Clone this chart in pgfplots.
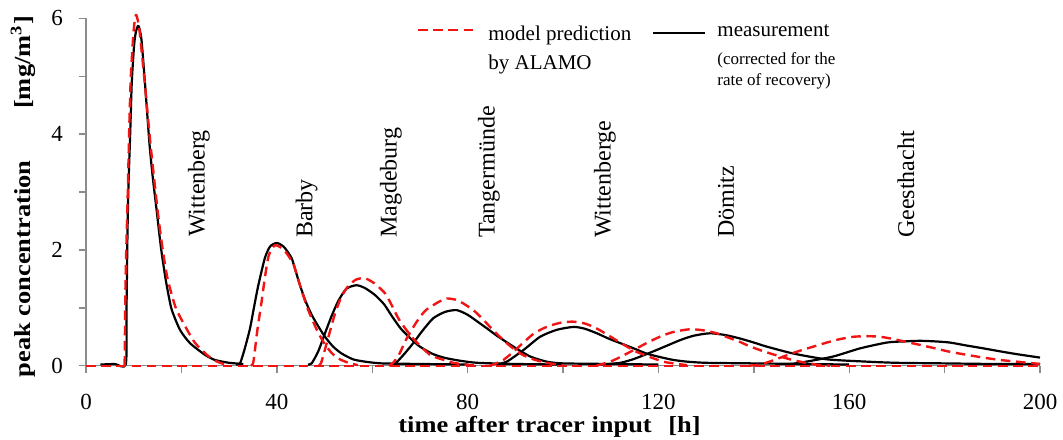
\documentclass[border=0pt]{standalone}
\usepackage{fontspec}
\setmainfont{Liberation Serif}
\usepackage{graphicx}
\usepackage{pgfplots}
\pgfplotsset{compat=1.18}
\definecolor{axgray}{RGB}{140,140,140}
\definecolor{mred}{RGB}{240,20,20}
\tikzset{
  meas/.style={black, line width=1.1pt, line join=round, smooth, tension=0.4},
  model/.style={mred, line width=1.2pt, dash pattern=on 4.8pt off 2.8pt, line join=round, smooth, tension=0.4},
}
\newcommand{\fs}[1]{\fontsize{#1}{#1}\selectfont}
\begin{document}
\begin{tikzpicture}
\useasboundingbox (-43pt,-36.65pt) rectangle (488.5pt,182.85pt);
\begin{axis}[
  scale only axis, width=477pt, height=173.7pt,
  at={(0,0)}, anchor=south west,
  xmin=0, xmax=200, ymin=0, ymax=6,
  clip=false,
  axis lines*=left,
  axis line style={axgray, line width=0.7pt},
  tick style={axgray, line width=0.7pt},
  tick align=outside,
  major tick length=3.5pt, minor tick length=3.5pt,
  xtick={0,40,...,200}, minor xtick={20,60,...,180},
  ytick={0,2,4,6}, minor ytick={1,3,5},
  /pgf/number format/assume math mode=true,
  ticklabel style={font=\fs{11.5}},
  xticklabel style={yshift=-7pt},
  yticklabel style={xshift=-4.5pt},
]
% measurement (black)
\addplot[meas] coordinates {(3,0.02)(6,0.03)(8.35,0.03)(8.5,1.0)(8.7,2.3)(8.9,3.1)(9.3,4.1)(9.6,4.9)(10.1,5.55)(10.5,5.78)(11.0,5.87)(11.6,5.65)(12.3,4.95)(13.3,3.84)(14.0,3.25)(14.8,2.69)(15.7,2.05)(16.6,1.54)(17.3,1.22)(18.0,0.96)(19.7,0.62)(21.8,0.39)(24.9,0.19)(27,0.1)(30,0.05)(33,0.03)};
\addplot[meas] coordinates {(31.5,0.02)(32.3,0.04)(33.3,0.3)(34.4,0.65)(35.2,1.0)(36.1,1.38)(37.5,1.86)(38.6,2.06)(40.0,2.12)(41.5,2.05)(43.1,1.86)(44.0,1.62)(44.9,1.38)(46.0,1.12)(47.3,0.88)(48.7,0.68)(50.1,0.5)(51.8,0.33)(53.6,0.21)(56,0.11)(58.5,0.07)(62,0.04)(70,0.03)(80,0.02)};
\addplot[meas] coordinates {(46.5,0.02)(47.3,0.04)(48.7,0.25)(50.1,0.56)(51.5,0.86)(52.9,1.12)(54.6,1.33)(56.7,1.39)(58.5,1.34)(60.6,1.22)(62.5,1.06)(64.1,0.86)(66,0.64)(68.3,0.45)(70,0.33)(72.5,0.21)(75,0.14)(78.1,0.09)(82,0.05)(90,0.03)(100,0.02)};
\addplot[meas] coordinates {(64,0.02)(65.1,0.06)(66.7,0.2)(68.6,0.39)(70.5,0.6)(72.8,0.82)(75.3,0.93)(77.7,0.96)(80.0,0.88)(82.6,0.73)(84.3,0.63)(86.1,0.52)(89.6,0.33)(93.1,0.16)(96.6,0.07)(100,0.04)(110,0.03)(120,0.02)};
\addplot[meas] coordinates {(86,0.02)(88.2,0.07)(91.7,0.27)(95.2,0.5)(98.7,0.62)(102.2,0.67)(104.5,0.64)(107.1,0.56)(109.5,0.47)(112,0.39)(114.8,0.3)(117.5,0.21)(120.3,0.15)(123.1,0.1)(126,0.07)(130,0.05)(140,0.04)(150,0.03)(160,0.02)};
\addplot[meas] coordinates {(108,0.02)(112,0.05)(115,0.12)(119.6,0.27)(124.5,0.44)(127.5,0.52)(130.8,0.56)(134,0.53)(137.1,0.47)(140,0.4)(142.7,0.33)(148.3,0.21)(155.3,0.11)(163.7,0.07)(170,0.05)(180,0.04)(190,0.03)(200,0.03)};
\addplot[meas] coordinates {(147,0.02)(151,0.07)(156.7,0.16)(162.3,0.3)(167.9,0.4)(171.5,0.42)(174.8,0.43)(178,0.42)(181.1,0.4)(184.5,0.35)(188.1,0.3)(191.5,0.25)(195.1,0.2)(200,0.14)};
% model prediction (red dashed)
\addplot[model, smooth=false] coordinates {(0,0)(200,0)};
\addplot[model] coordinates {(8.1,0)(8.3,1.5)(8.7,2.8)(9.1,4.2)(9.4,5.0)(10.0,5.8)(10.5,6.06)(11.2,5.8)(12.3,4.9)(13.5,3.84)(15.0,2.69)(16.0,2.05)(17.0,1.54)(18.0,1.22)(19.0,0.96)(21.2,0.62)(22.9,0.39)(25.3,0.19)(27,0.09)(28.5,0.04)(30,0.01)};
\addplot[model] coordinates {(34.6,0)(35.1,0.07)(35.9,0.6)(36.8,1.1)(37.5,1.52)(38.3,1.9)(39.6,2.08)(41.5,2.0)(43.5,1.75)(45,1.35)(46.6,0.96)(48.5,0.6)(50,0.38)(51.5,0.22)(53,0.12)(55,0.05)(57,0.01)};
\addplot[model] coordinates {(48.8,0)(49.3,0.05)(50.5,0.4)(52.2,0.9)(53.5,1.18)(55,1.38)(56.7,1.49)(58.5,1.51)(60.5,1.42)(62.7,1.25)(64,1.06)(65.6,0.8)(67.5,0.58)(69.0,0.43)(72.1,0.19)(74.6,0.11)(77,0.05)(79.5,0.02)(82,0)};
\addplot[model] coordinates {(63.5,0)(64.5,0.06)(65.8,0.22)(66.9,0.42)(68.5,0.65)(70,0.84)(71.4,0.97)(73.9,1.1)(75.6,1.16)(77.5,1.14)(79,1.08)(81.2,0.96)(83,0.82)(84.7,0.67)(86.5,0.52)(88.2,0.39)(90,0.27)(91.7,0.18)(93.8,0.11)(95.9,0.06)(98,0.03)(100,0.01)};
\addplot[model] coordinates {(84.5,0)(85.4,0.02)(87.5,0.1)(89.6,0.24)(91.7,0.4)(93.8,0.55)(96,0.65)(98,0.71)(100,0.75)(102.2,0.76)(104.5,0.73)(106.4,0.67)(108,0.6)(110.6,0.47)(113.4,0.33)(115.4,0.24)(118.2,0.15)(121,0.07)(123.1,0.04)(126,0.01)};
\addplot[model] coordinates {(107,0)(109.9,0.07)(112,0.15)(114.8,0.27)(117.5,0.39)(120.3,0.5)(123,0.58)(126.6,0.63)(129.5,0.61)(132.2,0.56)(134.5,0.49)(137.1,0.41)(139,0.34)(141.3,0.27)(143.5,0.21)(145.5,0.16)(147.6,0.11)(149.7,0.07)(153,0.02)(156,0)};
\addplot[model] coordinates {(139,0)(141.3,0.02)(144,0.09)(146.9,0.18)(149.7,0.26)(152.5,0.33)(155.3,0.4)(158.1,0.46)(160.9,0.5)(163.7,0.51)(166.5,0.5)(169.3,0.46)(172,0.41)(174.8,0.36)(178,0.3)(181.1,0.24)(184.5,0.19)(188.1,0.14)(191.5,0.1)(195.1,0.07)(200,0.03)};
\end{axis}
% station labels
\begin{scope}[every node/.style={rotate=90, anchor=west, inner sep=0pt, font=\fs{12}}]
\node at (56.5pt,64.3pt) {Wittenberg};
\node at (110.3pt,63.7pt) {Barby};
\node at (152.4pt,63.7pt) {Magdeburg};
\node at (201.5pt,63.7pt) {Tangermünde};
\node at (259.5pt,63.7pt) {Wittenberge};
\node at (320pt,63.7pt) {Dömitz};
\node at (410pt,63.7pt) {Geesthacht};
\end{scope}
% axis labels
\node[rotate=90, inner sep=0pt, font=\fs{11.5}\bfseries] at (-30.5pt,48.4pt) {\scalebox{1.15}[1]{peak concentration}};
\node[rotate=90, inner sep=0pt, font=\fs{11.5}\bfseries] at (-31.5pt,151.6pt) {\scalebox{1.15}[1]{[mg/m\textsuperscript{3}]}};
\node[anchor=base west, inner sep=0pt, font=\fs{11.5}\bfseries] at (156pt,-33.6pt) {\scalebox{1.15}[1]{time after tracer input}};
\node[anchor=base west, inner sep=0pt, font=\fs{11.5}\bfseries] at (291pt,-33.6pt) {\scalebox{1.15}[1]{[h]}};
% legend
\draw[mred, line width=1.2pt, dash pattern=on 4.8pt off 2.8pt] (166pt,167.85pt) -- (194.5pt,167.85pt);
\node[anchor=base west, inner sep=0pt, font=\fs{10.5}] at (201pt,162.4pt) {model prediction};
\node[anchor=base west, inner sep=0pt, font=\fs{10.5}] at (201pt,148.3pt) {by ALAMO};
\draw[black, line width=1.3pt] (283.5pt,166.35pt) -- (309.5pt,166.35pt);
\node[anchor=base west, inner sep=0pt, font=\fs{10.5}] at (315.5pt,164.5pt) {measurement};
\node[anchor=base west, inner sep=0pt, font=\fs{8.5}] at (315.5pt,150.4pt) {(corrected for the};
\node[anchor=base west, inner sep=0pt, font=\fs{8.5}] at (315.5pt,139.9pt) {rate of recovery)};
\end{tikzpicture}
\end{document}
